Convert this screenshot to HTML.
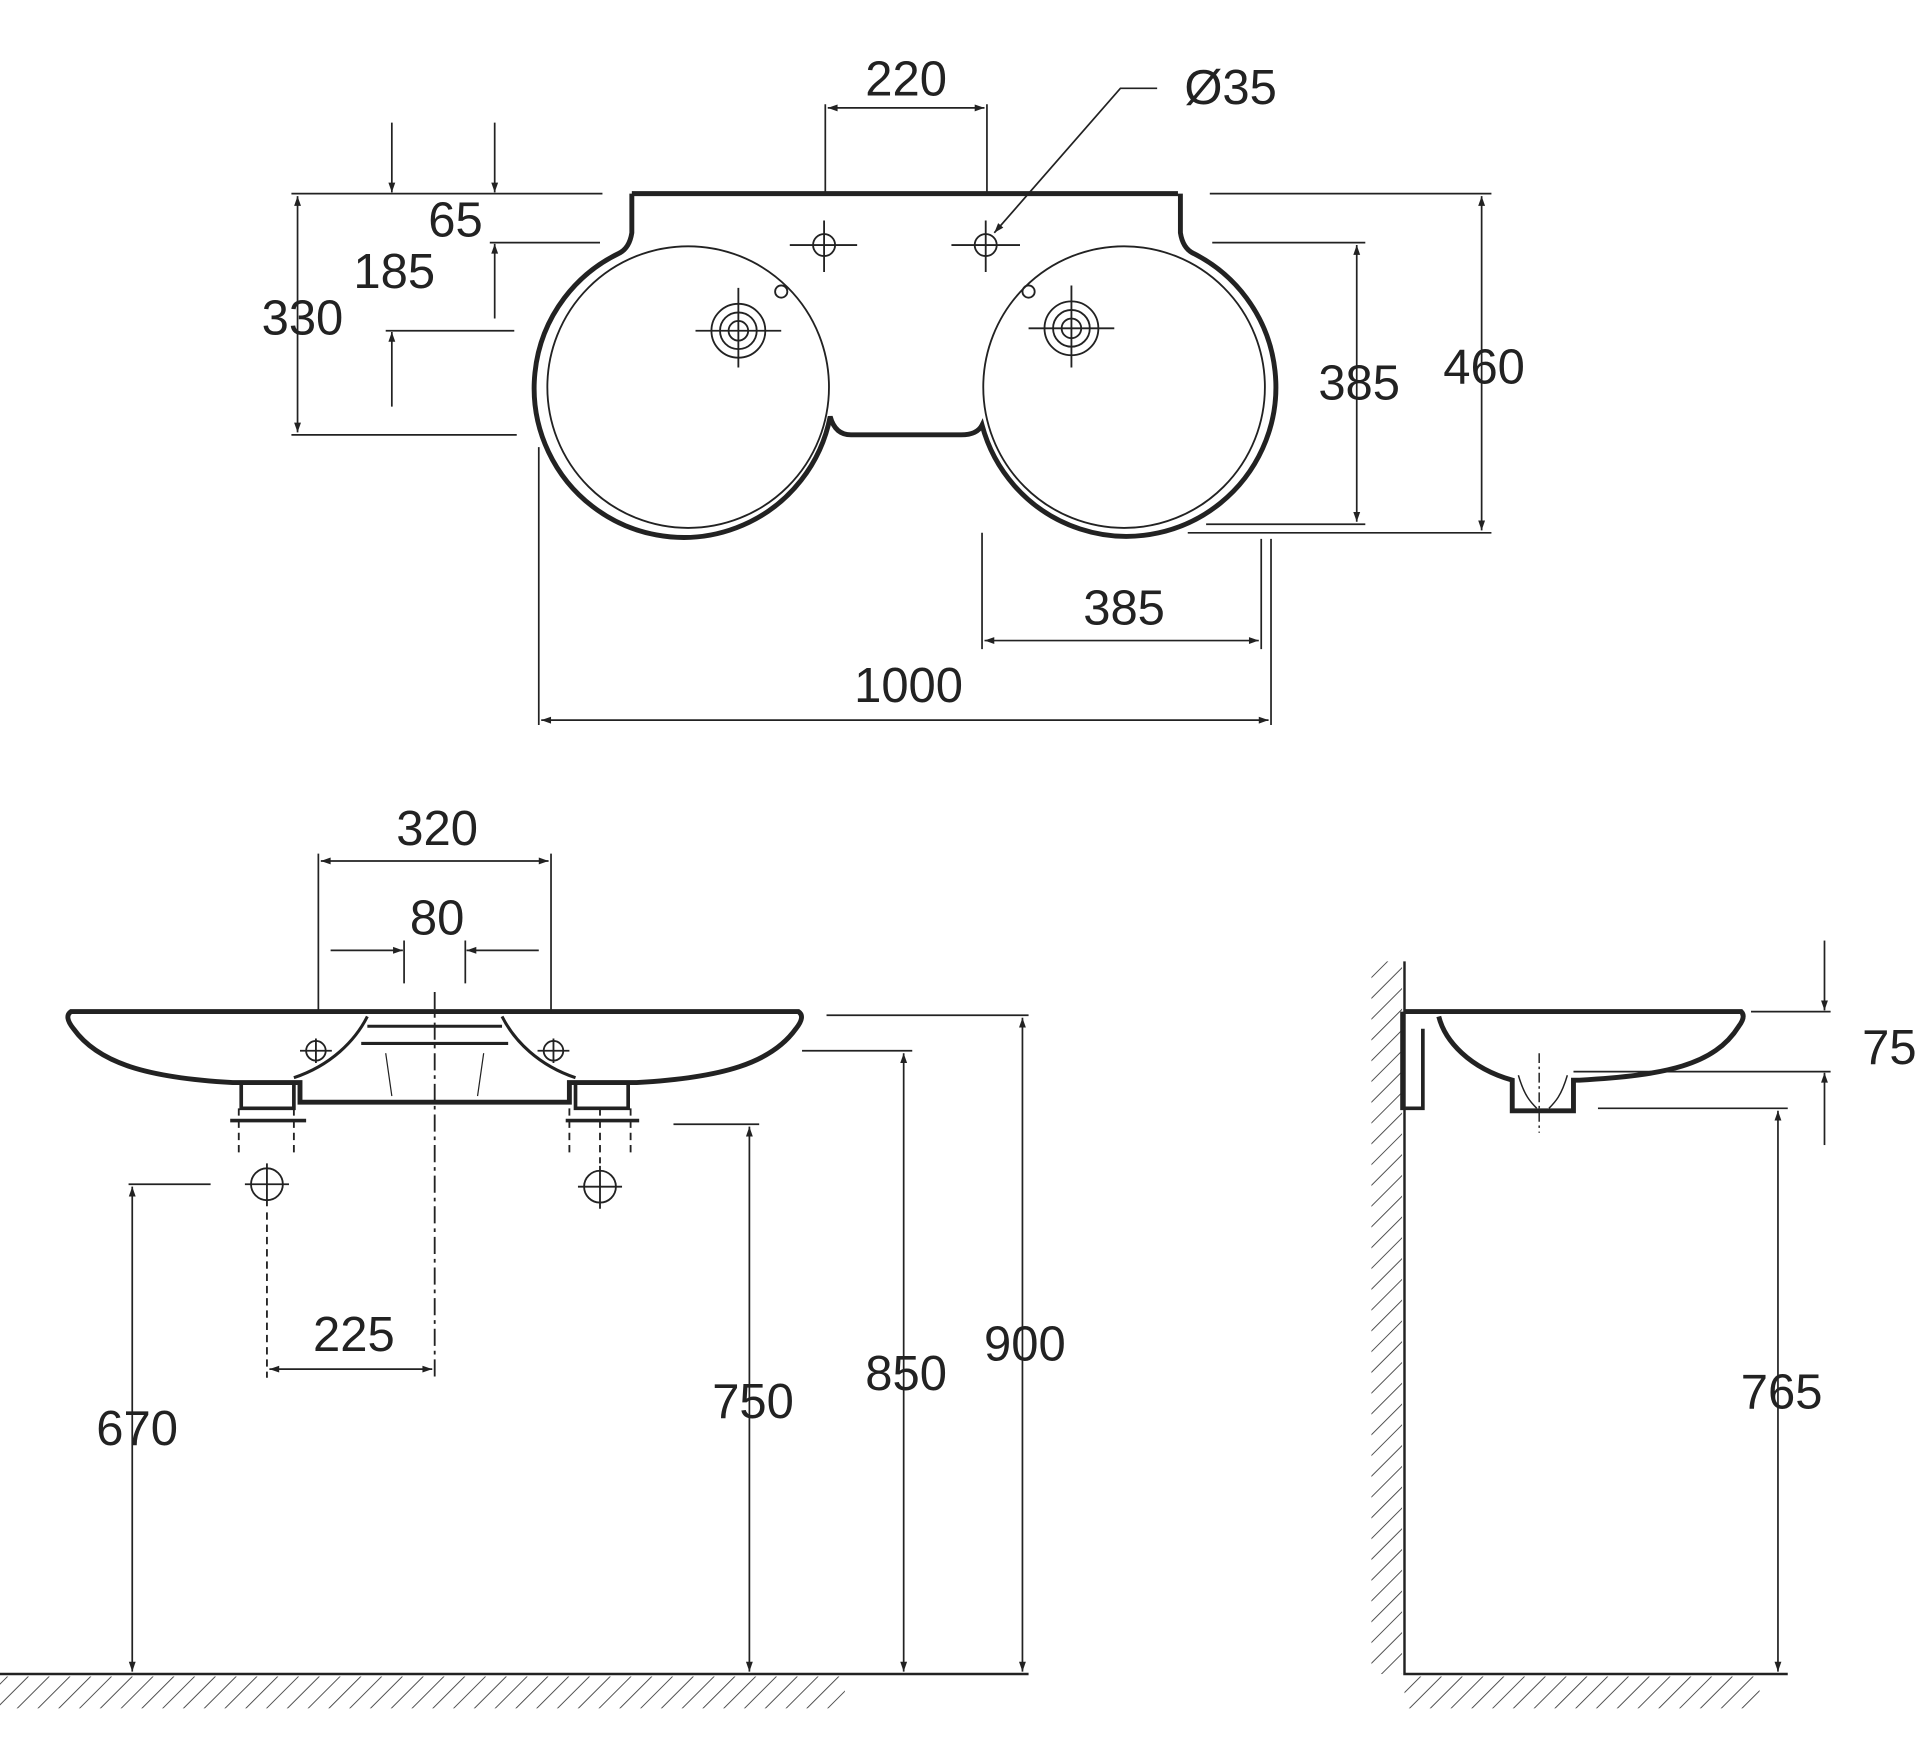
<!DOCTYPE html>
<html><head><meta charset="utf-8"><style>
html,body{margin:0;padding:0;background:#fff;}
svg{display:block;}
text{font-family:"Liberation Sans",Arial,sans-serif;font-size:40px;fill:#222;text-anchor:middle;}
</style></head><body>
<svg width="1920" height="1755" viewBox="0 0 1568 1433" xmlns="http://www.w3.org/2000/svg">
<defs>
<marker id="a" viewBox="0 0 10 10" refX="10" refY="5" markerWidth="20" markerHeight="8" markerUnits="userSpaceOnUse" orient="auto-start-reverse"><path d="M0,1.5 L10,5 L0,8.5 z" fill="#222"/></marker>
<pattern id="h" width="12" height="12" patternUnits="userSpaceOnUse" patternTransform="rotate(45)"><line x1="0" y1="0" x2="0" y2="12" stroke="#444" stroke-width="1.5"/></pattern>
</defs>
<g fill="none" stroke="#222">
<!-- TOP VIEW -->
<path d="M516,158 L962,158 M516,158 L516,190 Q514,203 505,207 A122,122 0 1 0 678,340 Q682,355 695,355 L785,355 Q798,355 802,347 A122,122 0 1 0 975,207 Q966,203 964,190 L964,158" stroke-width="4"/>
<circle cx="562" cy="316" r="115" stroke-width="1.5"/>
<circle cx="918" cy="316" r="115" stroke-width="1.5"/>
<g stroke-width="1.5">
<circle cx="673" cy="200" r="9"/><path d="M645,200H700M673,180V222"/>
<circle cx="805" cy="200" r="9"/><path d="M777,200H833M805,180V222"/>
<circle cx="603" cy="270" r="22"/><circle cx="603" cy="270" r="15"/><circle cx="603" cy="270" r="8"/><path d="M568,270H638M603,235V300"/>
<circle cx="875" cy="268" r="22"/><circle cx="875" cy="268" r="15"/><circle cx="875" cy="268" r="8"/><path d="M840,268H910M875,233V300"/>
<circle cx="638" cy="238" r="5"/><circle cx="840" cy="238" r="5"/>
</g>
<g stroke-width="1.4">
<path d="M674,85V158M806,85V158"/>
<line x1="676" y1="88" x2="804" y2="88" marker-start="url(#a)" marker-end="url(#a)"/>
<path d="M945,72H915L812,190" marker-end="url(#a)"/>
<path d="M238,158H492M400,198H490M315,270H420M238,355H422"/>
<line x1="243" y1="160" x2="243" y2="353" marker-start="url(#a)" marker-end="url(#a)"/>
<line x1="320" y1="100" x2="320" y2="157" marker-end="url(#a)"/>
<line x1="320" y1="332" x2="320" y2="271" marker-end="url(#a)"/>
<line x1="404" y1="100" x2="404" y2="157" marker-end="url(#a)"/>
<line x1="404" y1="260" x2="404" y2="199" marker-end="url(#a)"/>
<path d="M988,158H1218M990,198H1115M970,435H1218M985,428H1115"/>
<line x1="1210" y1="160" x2="1210" y2="433" marker-start="url(#a)" marker-end="url(#a)"/>
<line x1="1108" y1="200" x2="1108" y2="426" marker-start="url(#a)" marker-end="url(#a)"/>
<path d="M802,435V530M1030,440V530M440,365V592M1038,440V592"/>
<line x1="804" y1="523" x2="1028" y2="523" marker-start="url(#a)" marker-end="url(#a)"/>
<line x1="442" y1="588" x2="1036" y2="588" marker-start="url(#a)" marker-end="url(#a)"/>
</g>
<!-- FRONT VIEW -->
<path d="M58,826 L652,826 Q658,830 650,840 C630,868 590,880 520,884 L465,884 L465,900 L245,900 L245,884 L190,884 C120,880 80,868 60,840 Q52,830 58,826 Z" stroke-width="4"/>
<path d="M300,830 C290,850 270,870 240,880 M410,830 C420,850 440,870 470,880 M295,852H415 M300,838H410" stroke-width="2.5"/>
<path d="M315,860L320,895M395,860L390,895" stroke-width="1"/>
<path d="M197,884V905H240V884M470,884V905H513V884" stroke-width="3"/>
<path d="M188,915H250M462,915H522" stroke-width="3"/>
<g stroke-width="1.5">
<circle cx="258" cy="858" r="8"/><path d="M245,858H271M258,848V868"/>
<circle cx="452" cy="858" r="8"/><path d="M439,858H465M452,848V868"/>
<circle cx="218" cy="967" r="13"/><circle cx="490" cy="969" r="13"/>
<path d="M200,967H236M218,950V985M472,969H508M490,952V987"/>
<path d="M195,905V945M240,905V945M465,905V945M515,905V945M218,990V1125M490,905V950" stroke-dasharray="6,4"/>
<path d="M355,810V1125" stroke-dasharray="14,4,3,4"/>
</g>
<g stroke-width="1.4">
<path d="M260,697V826M450,697V826M330,768V803M380,768V803"/>
<line x1="262" y1="703" x2="448" y2="703" marker-start="url(#a)" marker-end="url(#a)"/>
<line x1="270" y1="776" x2="329" y2="776" marker-end="url(#a)"/>
<line x1="440" y1="776" x2="381" y2="776" marker-end="url(#a)"/>
<line x1="220" y1="1118" x2="353" y2="1118" marker-start="url(#a)" marker-end="url(#a)"/>
<path d="M105,967H172M550,918H620M655,858H745M675,829H840"/>
<line x1="108" y1="969" x2="108" y2="1365" marker-start="url(#a)" marker-end="url(#a)"/>
<line x1="612" y1="920" x2="612" y2="1365" marker-start="url(#a)" marker-end="url(#a)"/>
<line x1="738" y1="860" x2="738" y2="1365" marker-start="url(#a)" marker-end="url(#a)"/>
<line x1="835" y1="831" x2="835" y2="1365" marker-start="url(#a)" marker-end="url(#a)"/>
<path d="M0,1367H840" stroke-width="2"/>
</g>
<rect x="0" y="1369" width="690" height="26" fill="url(#h)" stroke="none"/>
<!-- SIDE VIEW -->
<rect x="1120" y="785" width="25" height="582" fill="url(#h)" stroke="none"/>
<rect x="1147" y="1369" width="290" height="26" fill="url(#h)" stroke="none"/>
<path d="M1147,785V1367H1460" stroke-width="2"/>
<path d="M1147,826H1422 Q1426,830 1420,838 C1400,870 1360,878 1290,882 L1285,882 L1285,907 L1235,907 L1235,882 C1200,872 1180,850 1175,830" stroke-width="4"/>
<path d="M1145,826V905H1162V840" stroke-width="3"/>
<path d="M1240,878C1245,895 1250,900 1255,905M1280,878C1275,895 1270,900 1265,905" stroke-width="1.2"/>
<path d="M1257,860V925" stroke-width="1.2" stroke-dasharray="8,3,2,3"/>
<g stroke-width="1.4">
<path d="M1430,826H1495M1285,875H1495M1305,905H1460"/>
<line x1="1490" y1="768" x2="1490" y2="825" marker-end="url(#a)"/>
<line x1="1490" y1="935" x2="1490" y2="876" marker-end="url(#a)"/>
<line x1="1452" y1="907" x2="1452" y2="1365" marker-start="url(#a)" marker-end="url(#a)"/>
</g>
</g>
<text x="740" y="78">220</text>
<text x="1005" y="85">Ø35</text>
<text x="372" y="193">65</text>
<text x="322" y="235">185</text>
<text x="247" y="273">330</text>
<text x="1110" y="326">385</text>
<text x="1212" y="313">460</text>
<text x="918" y="510">385</text>
<text x="742" y="573">1000</text>
<text x="357" y="690">320</text>
<text x="357" y="763">80</text>
<text x="289" y="1103">225</text>
<text x="112" y="1180">670</text>
<text x="615" y="1158">750</text>
<text x="740" y="1135">850</text>
<text x="837" y="1111">900</text>
<text x="1543" y="869">75</text>
<text x="1455" y="1150">765</text>
</svg>
</body></html>
